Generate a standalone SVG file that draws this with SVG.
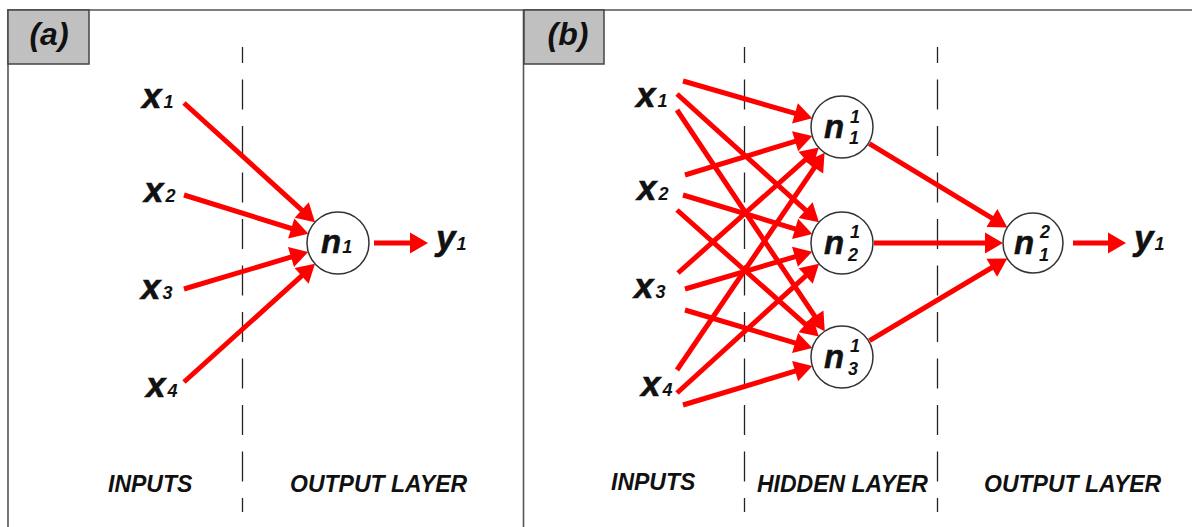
<svg xmlns="http://www.w3.org/2000/svg" width="1192" height="527" viewBox="0 0 1192 527">
<style>
.frame{stroke:#555;stroke-width:1.6;fill:none}
.tab{fill:#c0c0c0;stroke:#444;stroke-width:1.5}
.dash{stroke:#222;stroke-width:1.3;stroke-dasharray:30 16.5;stroke-dashoffset:14;fill:none}
.node{fill:#fff;stroke:#333;stroke-width:1.5}
.arr{stroke:#ff0000;stroke-width:5;fill:none;marker-end:url(#ah)}
text{font-family:"Liberation Sans",Arial,sans-serif;font-weight:bold;font-style:italic;fill:#111}
.big{font-size:35px;stroke:#111;stroke-width:0.6}
.nn{font-size:33px;stroke:#111;stroke-width:0.5}
.sm{font-size:18px;stroke:none}
.tag{font-size:32px;text-anchor:middle}
.lay{font-size:23px}
</style>
<defs>
<marker id="ah" markerUnits="userSpaceOnUse" markerWidth="20" markerHeight="22" refX="12" refY="10.5" orient="auto" overflow="visible">
<path d="M0,0 L18,10.5 L0,21 Z" fill="#ff0000"/>
</marker>
</defs>
<rect width="1192" height="527" fill="#fff"/>
<g id="frame">
<path class="frame" d="M7,10 H1192 M8,10 V527 M523.5,10 V527"/>
<rect class="tab" x="8" y="10" width="81" height="54"/>
<rect class="tab" x="524" y="10" width="80" height="54"/>
<text class="tag" x="49" y="45">(a)</text>
<text class="tag" x="568" y="45">(b)</text>
</g>
<g id="dividers">
<line class="dash" x1="242.5" y1="47" x2="242.5" y2="512"/>
<line class="dash" x1="744.5" y1="47" x2="744.5" y2="512"/>
<line class="dash" x1="937.5" y1="47" x2="937.5" y2="512"/>
</g>
<g id="connectors">
<line class="arr" x1="184" y1="103" x2="310.6" y2="218.1"/>
<line class="arr" x1="184" y1="195" x2="302.7" y2="232"/>
<line class="arr" x1="184" y1="289" x2="302.5" y2="253.6"/>
<line class="arr" x1="184" y1="382" x2="310.5" y2="267.8"/>
<line class="arr" x1="374" y1="243" x2="422" y2="243"/>
<line class="arr" x1="683" y1="81" x2="806.5" y2="116.7"/>
<line class="arr" x1="677" y1="94" x2="814.5" y2="218.2"/>
<line class="arr" x1="677" y1="110" x2="821.4" y2="326.2"/>
<line class="arr" x1="685" y1="175" x2="806.6" y2="137.8"/>
<line class="arr" x1="683" y1="195" x2="806.6" y2="232.3"/>
<line class="arr" x1="677" y1="210" x2="814.4" y2="332.4"/>
<line class="arr" x1="678" y1="273" x2="814.4" y2="151.6"/>
<line class="arr" x1="685" y1="289" x2="806.5" y2="253.4"/>
<line class="arr" x1="685" y1="310" x2="806.6" y2="346.4"/>
<line class="arr" x1="677" y1="370" x2="821.2" y2="157.6"/>
<line class="arr" x1="677" y1="393" x2="814.6" y2="267.9"/>
<line class="arr" x1="683" y1="405" x2="806.6" y2="367.7"/>
<line class="arr" x1="869.3" y1="143.6" x2="1002.2" y2="224.3"/>
<line class="arr" x1="874" y1="243" x2="997" y2="243"/>
<line class="arr" x1="869.5" y1="340.6" x2="1002.1" y2="261.5"/>
<line class="arr" x1="1073" y1="243" x2="1120" y2="243"/>
</g>
<g id="a-x1"><text class="big" x="142" y="108">x<tspan class="sm" dx="2">1</tspan></text></g>
<g id="a-x2"><text class="big" x="144" y="202">x<tspan class="sm" dx="2">2</tspan></text></g>
<g id="a-x3"><text class="big" x="141" y="299">x<tspan class="sm" dx="2">3</tspan></text></g>
<g id="a-x4"><text class="big" x="146" y="397">x<tspan class="sm" dx="2">4</tspan></text></g>
<g id="a-n1">
<circle class="node" cx="338" cy="243" r="31"/>
<text class="nn" x="321" y="253">n<tspan class="sm" dx="1">1</tspan></text>
</g>
<g id="a-y1"><text class="big" x="436" y="250">y<tspan class="sm" dx="1">1</tspan></text></g>
<g id="b-x1"><text class="big" x="636" y="107">x<tspan class="sm" dx="2">1</tspan></text></g>
<g id="b-x2"><text class="big" x="637" y="200">x<tspan class="sm" dx="2">2</tspan></text></g>
<g id="b-x3"><text class="big" x="634" y="298">x<tspan class="sm" dx="2">3</tspan></text></g>
<g id="b-x4"><text class="big" x="641" y="396">x<tspan class="sm" dx="2">4</tspan></text></g>
<g id="b-n11">
<circle class="node" cx="842" cy="127" r="31"/>
<text class="nn" x="824" y="138">n</text>
<text class="sm" x="850" y="123">1</text>
<text class="sm" x="849" y="144">1</text>
</g>
<g id="b-n21">
<circle class="node" cx="842" cy="243" r="31"/>
<text class="nn" x="824" y="254">n</text>
<text class="sm" x="850" y="238">1</text>
<text class="sm" x="848" y="261">2</text>
</g>
<g id="b-n31">
<circle class="node" cx="842" cy="357" r="31"/>
<text class="nn" x="824" y="368">n</text>
<text class="sm" x="850" y="352">1</text>
<text class="sm" x="848" y="375">3</text>
</g>
<g id="b-n12">
<circle class="node" cx="1033" cy="243" r="30"/>
<text class="nn" x="1014" y="254">n</text>
<text class="sm" x="1040" y="238">2</text>
<text class="sm" x="1039" y="261">1</text>
</g>
<g id="b-y1"><text class="big" x="1134" y="250">y<tspan class="sm" dx="1">1</tspan></text></g>
<g id="labels">
<text class="lay" x="108" y="492">INPUTS</text>
<text class="lay" x="290" y="492">OUTPUT LAYER</text>
<text class="lay" x="611" y="490">INPUTS</text>
<text class="lay" x="757" y="492">HIDDEN LAYER</text>
<text class="lay" x="984" y="492">OUTPUT LAYER</text>
</g>
</svg>
